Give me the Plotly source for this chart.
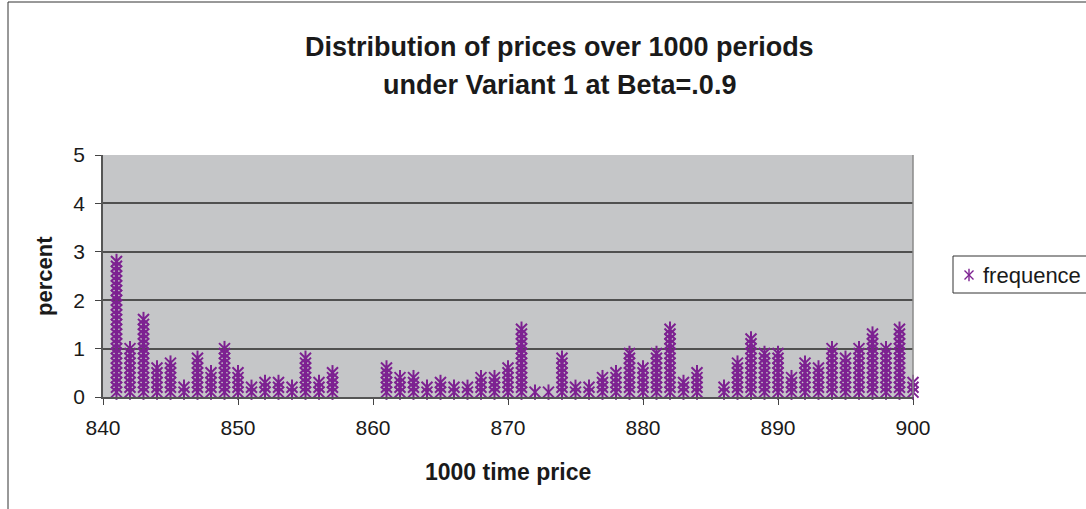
import plotly.graph_objects as go

# Price levels and share of the 1000 periods spent at each (percent)
prices = list(range(841, 901))
percent = [
    2.8, 1.0, 1.6, 0.6, 0.7, 0.2, 0.8, 0.5, 1.0, 0.5,   # 841-850
    0.2, 0.3, 0.3, 0.2, 0.8, 0.3, 0.5, 0.0, 0.0, 0.0,   # 851-860
    0.6, 0.4, 0.4, 0.2, 0.3, 0.2, 0.2, 0.4, 0.4, 0.6,   # 861-870
    1.4, 0.1, 0.1, 0.8, 0.2, 0.2, 0.4, 0.5, 0.9, 0.6,   # 871-880
    0.9, 1.4, 0.3, 0.5, 0.0, 0.2, 0.7, 1.2, 0.9, 0.9,   # 881-890
    0.4, 0.7, 0.6, 1.0, 0.8, 1.0, 1.3, 1.0, 1.4, 0.3,   # 891-900
]
x_ticks = [840, 850, 860, 870, 880, 890, 900]
y_ticks = [0, 1, 2, 3, 4, 5]
series_name = "frequence"
step = 0.1  # one period out of 1000, in percent

# Each period is drawn as one marker, stacked at its cumulative percent
xs, ys = [], []
for p, f in zip(prices, percent):
    for k in range(1, int(round(f / step)) + 1):
        xs.append(p)
        ys.append(round(k * step, 1))

PURPLE = "#7D2191"
FONT = "Liberation Sans, Arial, sans-serif"
INK = "#1a1a1a"

# plot-area pixel geometry
L, R, T, B = 103, 913, 155, 397
W, H = 1086, 509
pw = W - L  # paper width (right margin 0)


def px(x):
    return (x - L) / pw


def py(y):
    return (B - y) / (B - T)


fig = go.Figure()
# Excel-style star: an X with a vertical bar through it
for sym in ("x-thin-open", "line-ns-open"):
    fig.add_trace(go.Scatter(
        x=xs, y=ys, mode="markers", showlegend=False,
        marker=dict(symbol=sym, size=11, color=PURPLE,
                    line=dict(color=PURPLE, width=2)),
        cliponaxis=False, hoverinfo="skip",
    ))
    # key glyph inside the legend box
    fig.add_trace(go.Scatter(
        x=[0.5], y=[0.5], mode="markers", showlegend=False,
        marker=dict(symbol=sym, size=9, color=PURPLE,
                    line=dict(color=PURPLE, width=1.4)),
        xaxis="x2", yaxis="y2", hoverinfo="skip", cliponaxis=False,
    ))

shapes = [
    # outer chart frame
    dict(type="rect", xref="paper", yref="paper", layer="below",
         x0=px(8), x1=px(1095), y0=py(515), y1=py(2),
         line=dict(color="#333333", width=1), fillcolor="rgba(0,0,0,0)"),
    # right edge of plot area
    dict(type="line", xref="paper", yref="paper",
         x0=px(R), x1=px(R), y0=0, y1=1,
         line=dict(color="#8a8a8a", width=1.5)),
    # legend box
    dict(type="rect", xref="paper", yref="paper", layer="below",
         x0=px(953), x1=px(1095), y0=py(293), y1=py(256),
         line=dict(color="#333333", width=1), fillcolor="rgba(0,0,0,0)"),
    # white backing behind the key glyph
    dict(type="rect", xref="x2 domain", yref="y2 domain", layer="below",
         x0=-0.05, x1=1.05, y0=-0.05, y1=1.05,
         line=dict(width=0), fillcolor="white"),
]

annotations = [
    dict(text="<b>Distribution of prices over 1000 periods</b>",
         xref="paper", yref="paper", x=px(559), y=py(47),
         xanchor="center", yanchor="middle",
         showarrow=False, font=dict(family=FONT, size=27, color=INK)),
    dict(text="<b>under Variant 1 at Beta=.0.9</b>",
         xref="paper", yref="paper", x=px(559), y=py(85),
         xanchor="center", yanchor="middle",
         showarrow=False, font=dict(family=FONT, size=27, color=INK)),
    dict(text=series_name, xref="paper", yref="paper",
         x=px(981), y=py(275), xanchor="left", yanchor="middle",
         showarrow=False, font=dict(family=FONT, size=22, color=INK)),
    dict(text="<b>1000 time price</b>", xref="paper", yref="paper",
         x=px(508), y=py(472), xanchor="center", yanchor="middle",
         showarrow=False, font=dict(family=FONT, size=23, color=INK)),
    dict(text="<b>percent</b>", xref="paper", yref="paper",
         x=px(44), y=py(276), xanchor="center", yanchor="middle",
         textangle=-90,
         showarrow=False, font=dict(family=FONT, size=22, color=INK)),
]

fig.update_layout(
    template="none",
    width=W, height=H,
    margin=dict(l=L, r=0, t=T, b=H - B, pad=0),
    paper_bgcolor="white",
    plot_bgcolor="#C5C6C8",
    showlegend=False,
    font=dict(family=FONT, size=21, color=INK),
    shapes=shapes,
    annotations=annotations,
    xaxis=dict(
        domain=[0, px(R)], range=[840, 900], automargin=False,
        tickvals=x_ticks, ticks="outside", ticklen=6, tickcolor="#444",
        tickwidth=1.2, ticklabelstandoff=5,
        showgrid=False, zeroline=False,
        showline=True, linecolor="#555", linewidth=1.5,
        tickfont=dict(size=21, family=FONT, color=INK),
    ),
    yaxis=dict(
        domain=[0, 1], range=[0, 5], automargin=False,
        tickvals=y_ticks, ticks="outside", ticklen=6, tickcolor="#444",
        tickwidth=1.2, ticklabelstandoff=6,
        showgrid=True, gridcolor="#505050", gridwidth=1.5,
        zeroline=False,
        showline=True, linecolor="#555", linewidth=1.5,
        tickfont=dict(size=21, family=FONT, color=INK),
    ),
    xaxis2=dict(domain=[px(962), px(976)], range=[0, 1], visible=False,
                anchor="y2", fixedrange=True, automargin=False),
    yaxis2=dict(domain=[py(282), py(268)], range=[0, 1], visible=False,
                anchor="x2", fixedrange=True, automargin=False),
)

fig.write_html("out.html")
